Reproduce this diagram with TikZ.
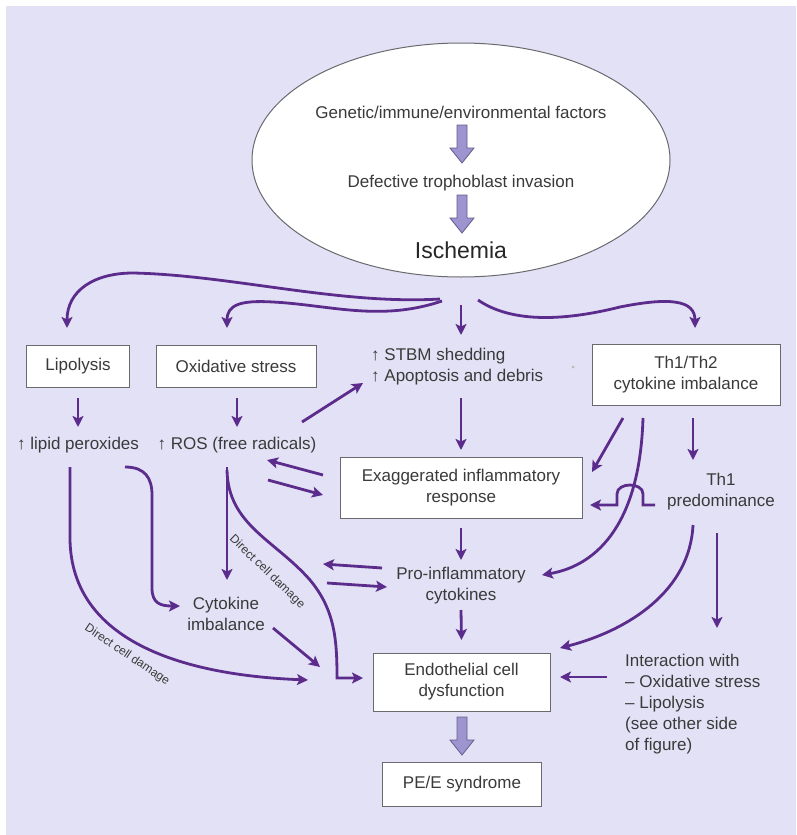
\documentclass[tikz,border=0pt]{standalone}
\usepackage{fontspec}
\setmainfont{Liberation Sans}
\usetikzlibrary{arrows.meta,calc,shapes.geometric}

\definecolor{panel}{RGB}{227,225,245}
\definecolor{pline}{RGB}{92,44,140}
\definecolor{ink}{RGB}{58,58,58}
\definecolor{frame}{RGB}{105,105,110}
\definecolor{bfill}{RGB}{158,148,208}
\definecolor{bline}{RGB}{100,92,140}

\tikzset{
  hollow/.pic={
    \draw[fill=bfill, draw=bline, line width=0.8pt, line join=miter]
      (-5,0) -- (-5,23) -- (-12,23) -- (0,38) -- (12,23) -- (5,23) -- (5,0) -- cycle;
  }
}

\begin{document}
\begin{tikzpicture}[x=1pt,y=-1pt,
  every node/.style={text=ink, font=\fontsize{17}{21}\selectfont, inner sep=0pt, align=center},
  box/.style={draw=frame, line width=0.9pt, fill=white},
  arr/.style={draw=pline, line width=2.8pt, -{Stealth[length=11pt,width=11pt,inset=2.5pt]}},
  lbl/.style={font=\fontsize{12}{14}\selectfont, text=ink}
]
% page and panel
\fill[white] (0,0) rectangle (796,835);
\fill[panel] (6,6) rectangle (796,835);
\useasboundingbox (0,0) rectangle (796,835);

% causes inside the ellipse
\node[ellipse, draw=frame, line width=1pt, fill=white,
      minimum width=418pt, minimum height=234pt] (ell) at (461,160) {};
\node (gen) at (461,112) {Genetic/immune/environmental factors};
\node (def) at (461,183) {Defective trophoblast invasion};
\node[font=\fontsize{23}{27}\selectfont, text=black!85] (isc) at (461,250) {Ischemia};
\pic at ($(gen)+(1,13)$) {hollow};
\pic at ($(def)+(1,12)$) {hollow};

% first row
\node[box, minimum width=103pt, minimum height=42pt] (lipo) at (78,366) {Lipolysis};
\node[box, minimum width=160pt, minimum height=42pt] (oxs) at (236,366) {Oxidative stress};
\node[anchor=west, align=left] (stbm) at (371,367) {↑ STBM shedding\\↑ Apoptosis and debris};
\node[circle, fill=gray!55, minimum size=3pt] (speck) at (573,367) {};
\node[box, minimum width=188pt, minimum height=61pt] (th12) at (686,374.5) {Th1/Th2\\cytokine imbalance};

% second row
\node (lpx) at (78,445) {↑ lipid peroxides};
\node (ros) at (237,445) {↑ ROS (free radicals)};
\node[box, minimum width=242pt, minimum height=61pt] (exag) at (461,487.5) {Exaggerated inflammatory\\response};
\node (th1p) at (721,492) {Th1\\predominance};

% lower part
\node (pro) at (461,586) {Pro-inflammatory\\cytokines};
\node (cyt) at (226,614) {Cytokine\\imbalance};
\node[box, minimum width=177pt, minimum height=58pt] (endo) at (461.5,682) {Endothelial cell\\dysfunction};
\node[box, minimum width=159pt, minimum height=44pt] (pee) at (462,784) {PE/E syndrome};
\node[anchor=west, align=left] (inter) at (625,704) {Interaction with\\– Oxidative stress\\– Lipolysis\\(see other side\\of figure)};
\pic at ($(endo)+(0.5,35)$) {hollow};

% branches leaving ischemia
\draw[arr] ($(ell)+(-21,139)$) .. controls (340,305) and (230,275) .. (133,273)
           .. controls (95,273) and (67,290) .. ($(lipo)+(-11,-38)$);
\draw[arr] ($(ell)+(-19,141)$) .. controls (380,322) and (330,305) .. (273,302)
           .. controls (240,300) and (227,305) .. ($(oxs)+(-9,-38)$);
\draw[arr] ($(ell)+(0,145)$) -- ($(stbm.west)+(90,-32)$);
\draw[arr] ($(ell)+(17,140)$) .. controls (510,322) and (560,322) .. (620,307)
           .. controls (670,297) and (695,300) .. ($(th12)+(9,-46.5)$);

% first row to second row
\draw[arr] ($(lipo)+(0,32)$) -- ($(lpx)+(0,-18)$);
\draw[arr] ($(oxs)+(1,32)$) -- ($(ros)+(0,-18)$);
\draw[arr] ($(ros)+(65,-23)$) -- ($(stbm.west)+(-8,16)$);
\draw[arr] ($(stbm.west)+(90,31)$) -- ($(exag)+(0,-37.5)$);
\draw[arr] ($(exag)+(-138,-12.5)$) -- ($(ros)+(30,15)$);
\draw[arr] ($(ros)+(31,35)$) -- ($(exag)+(-138,7.5)$);

% Th1/Th2 side
\draw[arr] ($(th12)+(-63,43.5)$) -- ($(exag)+(131,-15.5)$);
\draw[arr] ($(th12)+(-43,43.5)$) .. controls (640,520) and (600,565) .. ($(pro)+(81,-11)$);
\draw[arr] ($(th12)+(7,43.5)$) -- ($(th1p)+(-28,-32)$);
\draw[arr] ($(th1p)+(-66,13)$) -- (643,505) -- (643,494)
           .. controls (643,482) and (617,482) .. (617,494) -- (617,505)
           -- ($(exag)+(129,17.5)$);
\draw[arr] ($(th1p)+(-28,33)$) .. controls (690,590) and (630,630) .. ($(endo)+(98.5,-34)$);
\draw[arr] ($(th1p)+(-4,41)$) -- ($(inter.west)+(92,-76)$);
\draw[arr] ($(inter.west)+(-18,-27)$) -- ($(endo)+(98.5,-5)$);

% central column
\draw[arr] ($(exag)+(0,40.5)$) -- ($(pro)+(0,-26)$);
\coordinate (hitA) at ($(pro)+(-138,-22)$);
\draw[arr] ($(pro)+(-79,-18)$) -- (hitA);
\draw[arr] ($(pro)+(-134,-3)$) -- ($(pro)+(-74,1)$);
\draw[arr] ($(pro)+(0,24)$) -- ($(endo)+(0,-42)$);

% left side: lipid peroxides and ROS
\draw[arr] ($(lpx)+(-8,22)$) -- (70,540) .. controls (72,640) and (180,675) .. ($(endo)+(-153.5,-2)$);
\draw[arr] ($(lpx)+(47,22)$) .. controls (145,467) and (152,478) .. (152,495) -- (152,588)
           .. controls (152,603) and (160,606) .. ($(cyt)+(-46,-8)$);
\draw[arr] ($(ros)+(-10,22)$) -- ($(cyt)+(1,-34)$);
\draw[arr] ($(ros)+(-10,25)$) .. controls (228,525) and (275,540) .. (310,580)
           .. controls (335,610) and (337,640) .. (337,678) -- ($(endo)+(-98.5,-4)$);
\draw[arr] ($(cyt)+(47,14)$) -- ($(endo)+(-141.5,-15)$);

% labels along the damage paths
\node[lbl, rotate=-34] (dcdA) at (127,655) {Direct cell damage};
\node[lbl, rotate=-44] (dcdB) at (267,572) {Direct cell damage};
\end{tikzpicture}
\end{document}
